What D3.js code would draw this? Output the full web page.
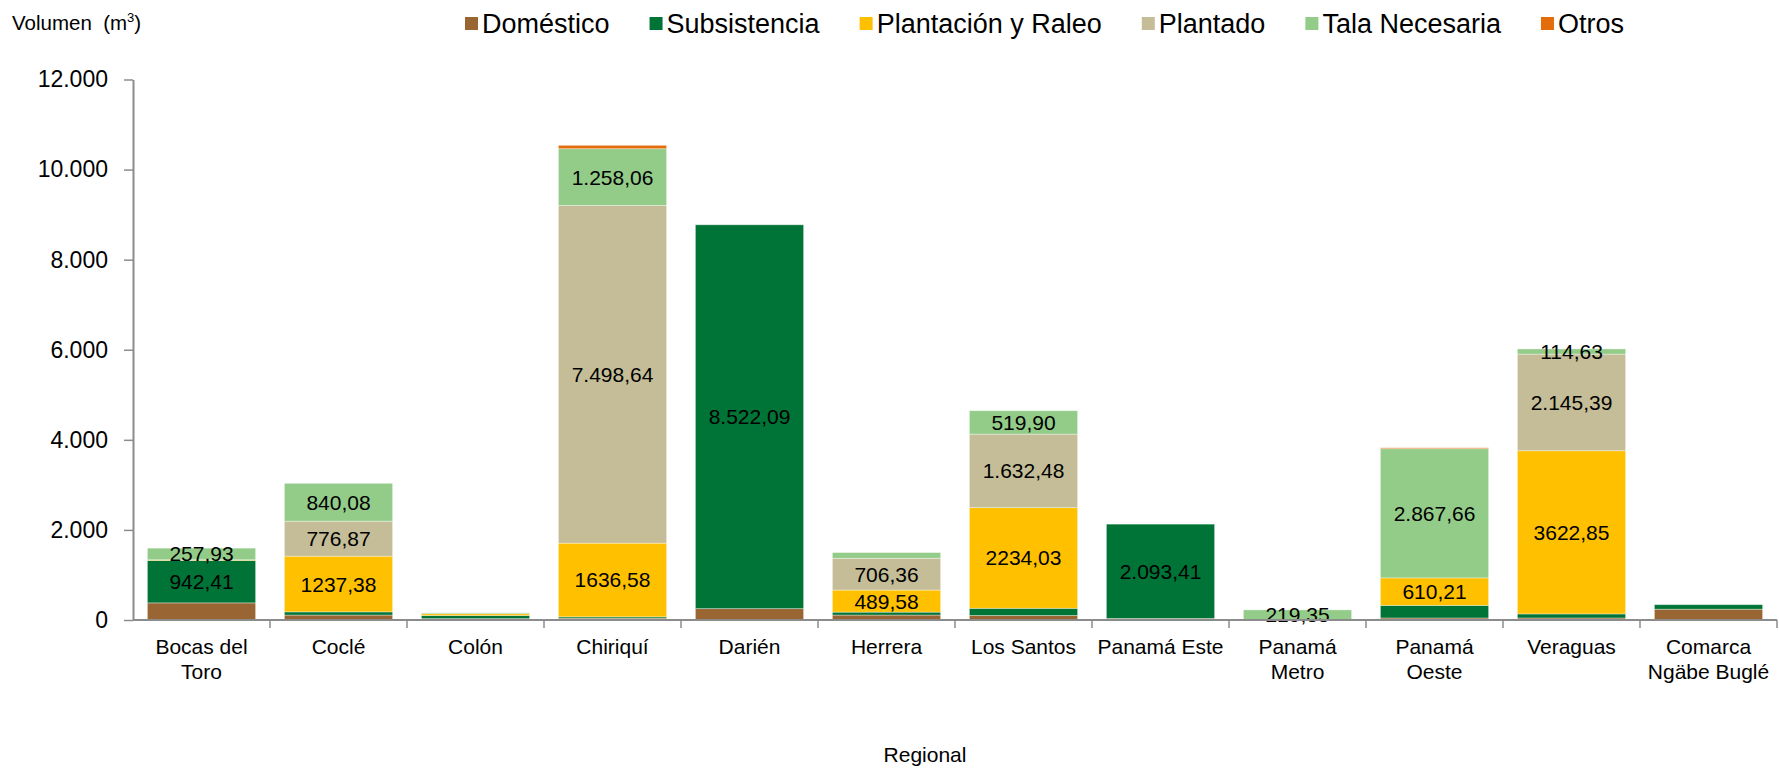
<!DOCTYPE html>
<html>
<head>
<meta charset="utf-8">
<script src="https://cdn.jsdelivr.net/npm/d3@7"></script>
<style>
  body { margin: 0; background: #fff; }
  svg { font-family: "Liberation Sans", Arial, sans-serif; }
</style>
</head>
<body>
<svg id="chart"></svg>
<script>
// categorías (regionales) y etiquetas en dos líneas
const categories = ['Bocas del Toro', 'Coclé', 'Colón', 'Chiriquí', 'Darién', 'Herrera', 'Los Santos',
  'Panamá Este', 'Panamá Metro', 'Panamá Oeste', 'Veraguas', 'Comarca Ngäbe Buglé']
const categoryLines = [['Bocas del', 'Toro'], ['Coclé'], ['Colón'], ['Chiriquí'], ['Darién'], ['Herrera'],
  ['Los Santos'], ['Panamá Este'], ['Panamá', 'Metro'], ['Panamá', 'Oeste'], ['Veraguas'], ['Comarca', 'Ngäbe Buglé']]

const seriesNames = ['Doméstico', 'Subsistencia', 'Plantación y Raleo', 'Plantado', 'Tala Necesaria', 'Otros']
const seriesColors = ['#996633', '#007437', '#FFC000', '#C4BD97', '#93CC88', '#E46C0A']

// volúmenes (m3) por serie
const domestico    = [380, 110, 30, 40, 252, 110, 100, 35, 5, 45, 45, 240]
const subsistencia = [942.41, 70, 70, 30, 8522.09, 65, 160, 2093.41, 0, 280, 90, 100]
const plantacion   = [15, 1237.38, 40, 1636.58, 0, 489.58, 2234.03, 0, 0, 610.21, 3622.85, 0]
const plantado     = [0, 776.87, 0, 7498.64, 0, 706.36, 1632.48, 0, 0, 0, 2145.39, 0]
const tala         = [257.93, 840.08, 20, 1258.06, 0, 126, 519.90, 0, 219.35, 2867.66, 114.63, 0]
const otros        = [0, 0, 0, 75, 0, 0, 0, 0, 0, 20, 0, 0]

// etiquetas de datos mostradas (null = sin etiqueta)
const lblDomestico    = [null, null, null, null, null, null, null, null, null, null, null, null]
const lblSubsistencia = ['942,41', null, null, null, '8.522,09', null, null, '2.093,41', null, null, null, null]
const lblPlantacion   = [null, '1237,38', null, '1636,58', null, '489,58', '2234,03', null, null, '610,21', '3622,85', null]
const lblPlantado     = [null, '776,87', null, '7.498,64', null, '706,36', '1.632,48', null, null, null, '2.145,39', null]
const lblTala         = ['257,93', '840,08', null, '1.258,06', null, null, '519,90', null, '219,35', '2.867,66', '114,63', null]
const lblOtros        = [null, null, null, null, null, null, null, null, null, null, null, null]

const yTicks = [0, 2000, 4000, 6000, 8000, 10000, 12000]

const seriesValues = [domestico, subsistencia, plantacion, plantado, tala, otros]
const seriesLabels = [lblDomestico, lblSubsistencia, lblPlantacion, lblPlantado, lblTala, lblOtros]

const width = 1779
const height = 771

const svg = d3.select('#chart')
  .attr('width', width)
  .attr('height', height)

const rows = categories.map((c, i) => {
  const row = { regional: c, idx: i }
  seriesNames.forEach((s, k) => { row[s] = seriesValues[k][i] })
  return row
})

const x = d3.scaleBand()
  .domain(categories)
  .range([133, 1777])
  .paddingInner(0.21)
  .paddingOuter(0.105)

const y = d3.scaleLinear()
  .domain([0, 12000])
  .range([620, 79.5])

const stacked = d3.stack().keys(seriesNames)(rows)

// ejes
const fmt = d => d3.format(',')(d).replace(/,/g, '.')
const yAxis = svg.append('g')
  .attr('transform', 'translate(133,0)')
  .call(d3.axisLeft(y).tickValues(yTicks).tickFormat(fmt).tickSize(9).tickPadding(16).tickSizeOuter(0))
yAxis.select('.domain').attr('stroke', '#8c8c8c').attr('stroke-width', 2)
yAxis.selectAll('.tick line').attr('stroke', '#8c8c8c').attr('stroke-width', 1.5)
yAxis.selectAll('.tick text')
  .attr('fill', '#000')
  .style('font-size', '23px')
  .style('font-family', '"Liberation Sans", Arial, sans-serif')

// barras apiladas
const layers = svg.append('g')
  .selectAll('g')
  .data(stacked)
  .enter()
  .append('g')
  .attr('fill', (d, k) => seriesColors[k])

layers.selectAll('rect')
  .data(d => d)
  .enter()
  .append('rect')
  .attr('x', d => x(d.data.regional))
  .attr('width', x.bandwidth())
  .attr('y', d => y(d[1]))
  .attr('height', d => Math.max(0, y(d[0]) - y(d[1])))
  .attr('stroke', '#ffffff')
  .attr('stroke-opacity', 0.45)
  .attr('stroke-width', 0.8)

// etiquetas de datos
stacked.forEach((layer, k) => {
  svg.append('g')
    .selectAll('text')
    .data(layer.filter(d => seriesLabels[k][d.data.idx]))
    .enter()
    .append('text')
    .attr('x', d => x(d.data.regional) + x.bandwidth() / 2)
    .attr('y', d => (y(d[0]) + y(d[1])) / 2)
    .attr('text-anchor', 'middle')
    .attr('dominant-baseline', 'central')
    .attr('fill', '#000')
    .style('font-size', '21px')
    .text(d => seriesLabels[k][d.data.idx])
})

// eje x
svg.append('line')
  .attr('x1', 133).attr('x2', 1777)
  .attr('y1', y(0)).attr('y2', y(0))
  .attr('stroke', '#8c8c8c')
  .attr('stroke-width', 2)

const step = x.step()
const boundaries = categories.map((c, i) => 133 + step * (i + 1))
svg.append('g')
  .selectAll('line')
  .data(boundaries)
  .enter()
  .append('line')
  .attr('x1', d => d).attr('x2', d => d)
  .attr('y1', y(0)).attr('y2', y(0) + 8)
  .attr('stroke', '#8c8c8c')
  .attr('stroke-width', 1.5)

const catLabels = svg.append('g')
  .selectAll('text')
  .data(categories)
  .enter()
  .append('text')
  .attr('text-anchor', 'middle')
  .attr('fill', '#000')
  .style('font-size', '21px')

catLabels.selectAll('tspan')
  .data((d, i) => categoryLines[i].map(line => ({ line, c: d })))
  .enter()
  .append('tspan')
  .attr('x', d => x(d.c) + x.bandwidth() / 2)
  .attr('y', (d, j) => 654 + j * 25)
  .text(d => d.line)

// títulos
svg.append('text')
  .attr('x', 925)
  .attr('y', 762)
  .attr('text-anchor', 'middle')
  .style('font-size', '21px')
  .text('Regional')

const yTitle = svg.append('text')
  .attr('x', 12)
  .attr('y', 30)
  .style('font-size', '20.5px')
  .attr('xml:space', 'preserve')
yTitle.append('tspan').text('Volumen  (m')
yTitle.append('tspan').attr('dy', -8).style('font-size', '13px').text('3')
yTitle.append('tspan').attr('dy', 8).text(')')

// leyenda
const legend = svg.append('g')
let lx = 465
seriesNames.forEach((s, k) => {
  const item = legend.append('g').attr('transform', `translate(${lx},0)`)
  item.append('rect')
    .attr('x', 0).attr('y', 17)
    .attr('width', 13).attr('height', 13)
    .attr('fill', seriesColors[k])
  const t = item.append('text')
    .attr('x', 17)
    .attr('y', 33)
    .style('font-size', '27px')
    .attr('fill', '#000')
    .text(s)
  lx += 17 + t.node().getComputedTextLength() + 40
})
</script>
</body>
</html>
